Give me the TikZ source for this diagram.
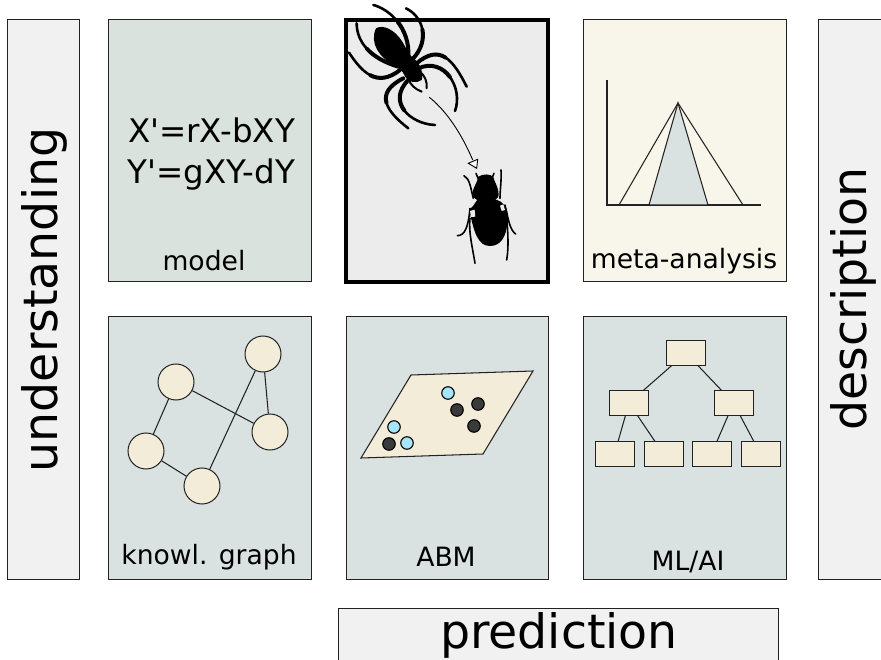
\documentclass[tikz,border=0pt]{standalone}
\usepackage{fontspec}
\setmainfont{DejaVu Sans}
\usetikzlibrary{calc}
\definecolor{modelfill}{HTML}{D9E2DC}
\definecolor{panelfill}{HTML}{D9E1E1}
\definecolor{centerfill}{HTML}{ECECEC}
\definecolor{metafill}{HTML}{F8F5EA}
\definecolor{sidefill}{HTML}{F1F1F1}
\definecolor{cream}{HTML}{F3ECD9}
\definecolor{agentblue}{HTML}{A6E4F8}
\definecolor{agentdark}{HTML}{3A3A3A}
\definecolor{edgegrey}{HTML}{222222}
\tikzset{
  panel/.style={draw=edgegrey,line width=1pt},
  lab/.style={inner sep=0pt,text=black,font=\fontsize{26.6}{30}\selectfont},
  bigtext/.style={inner sep=0pt,text=black,font=\fontsize{47.4}{52}\selectfont},
  gnode/.style={circle,draw=edgegrey,fill=cream,line width=1pt,minimum size=36pt,inner sep=0pt},
  tnode/.style={rectangle,draw=edgegrey,fill=cream,line width=1pt,minimum width=39pt,minimum height=24.5pt,inner sep=0pt},
  agentb/.style={circle,draw=black,fill=agentblue,line width=1.1pt,minimum size=12.5pt,inner sep=0pt},
  agentd/.style={circle,draw=black,fill=agentdark,line width=1.1pt,minimum size=12.5pt,inner sep=0pt},
  conn/.style={draw=edgegrey,line width=1.05pt},
  spleg/.style={draw=black,line cap=round,line width=2.6pt},
  bleg/.style={draw=black,line cap=round,line width=1.6pt},
}
\newcommand\taperleg[4]{%
  \draw[spleg] #1 .. controls #2 and #3 .. #4;
  \coordinate (mA) at ($#3!.5!#4$);
  \coordinate (mB) at ($#2!.5!#3$);
  \coordinate (mC) at ($(mA)!.5!(mB)$);
  \coordinate (mD) at ($#1!.5!#2$);
  \coordinate (mE) at ($(mD)!.5!(mB)$);
  \coordinate (mF) at ($(mE)!.5!(mC)$);
  \draw[spleg,line width=4pt] (mF) .. controls (mC) and (mA) .. #4;
}
\begin{document}
\begin{tikzpicture}[x=1pt,y=-1pt]
\useasboundingbox (0,0) rectangle (881,660);
\clip (0,0) rectangle (881,660);
\fill[white] (0,0) rectangle (881,660);
% side bands
\draw[panel,fill=sidefill] (7,20) rectangle (79,579);
\draw[panel,fill=sidefill] (818,20) rectangle (890,579);
\draw[panel,fill=sidefill] (338,608) rectangle (778,670);
\node[bigtext,rotate=90] (understanding) at (44,300) {understanding};
\node[bigtext,rotate=90] (description) at (853,299) {description};
\node[bigtext] (prediction) at (559,635) {prediction};
% panels
\draw[panel,fill=modelfill] (108,20) rectangle (311,282);
\draw[draw=black,line width=3.5pt,fill=centerfill] (346,20) rectangle (548,282);
\draw[panel,fill=metafill] (583,20) rectangle (786,282);
\draw[panel,fill=panelfill] (108,317) rectangle (311,579);
\draw[panel,fill=panelfill] (346,317) rectangle (548,579);
\draw[panel,fill=panelfill] (583,317) rectangle (786,579);
% model
\node[inner sep=0pt,align=center,font=\fontsize{32.5}{41}\selectfont] (eqs) at (211.5,154) {X\textquotesingle=rX-bXY\\Y\textquotesingle=gXY-dY};
\node[lab] (model) at (204,261) {model};
% meta-analysis
\node[lab] (meta) at (684,261) {meta-analysis};
\draw[conn] (607,80) -- (607,205) -- (761,205);
\draw[conn] (619,205) -- (678,103) -- (743,205);
\draw[conn,fill=panelfill] (649,205) -- (678,103) -- (708,205) -- cycle;
% knowledge graph
\node[gnode] (g1) at (176,382) {};
\node[gnode] (g2) at (263,354) {};
\node[gnode] (g3) at (270,432) {};
\node[gnode] (g4) at (146,451) {};
\node[gnode] (g5) at (202,486) {};
\draw[conn] (g1) -- (g3);
\draw[conn] (g1) -- (g4);
\draw[conn] (g4) -- (g5);
\draw[conn] (g5) -- (g2);
\draw[conn] (g2) -- (g3);
\node[lab] (kg) at (209,557) {knowl. graph};
% ABM
\draw[conn,fill=cream] (411,375) -- (533,371) -- (483,454) -- (361,458) -- cycle;
\node[agentb] (a1) at (448,393) {};
\node[agentb] (a2) at (394,427) {};
\node[agentb] (a3) at (407,443) {};
\node[agentd] (a4) at (457,410) {};
\node[agentd] (a5) at (478,404) {};
\node[agentd] (a6) at (474,426) {};
\node[agentd] (a7) at (389,444) {};
\node[lab] (abm) at (446,557) {ABM};
% tree
\node[tnode] (t0) at (686,353) {};
\node[tnode] (t1) at (629,403) {};
\node[tnode] (t2) at (733.5,403) {};
\node[tnode] (t3) at (614.5,454) {};
\node[tnode] (t4) at (663.5,454) {};
\node[tnode] (t5) at (711.5,454) {};
\node[tnode] (t6) at (760.5,454) {};
\draw[conn] (t0) -- (t1);
\draw[conn] (t0) -- (t2);
\draw[conn] (t1) -- (t3);
\draw[conn] (t1) -- (t4);
\draw[conn] (t2) -- (t5);
\draw[conn] (t2) -- (t6);
\node[lab] (ml) at (688,562) {ML/AI};
% spider
\begin{scope}[shift={(345,0)},x=.3333pt,y=-.3333pt]
  \taperleg{(85,15)}{(135,28)}{(195,85)}{(190,170)}
  \taperleg{(183,25)}{(235,50)}{(255,120)}{(205,175)}
  \taperleg{(35,70)}{(35,125)}{(75,175)}{(160,200)}
  \taperleg{(12,158)}{(50,215)}{(95,265)}{(165,210)}
  \taperleg{(365,260)}{(325,180)}{(285,130)}{(215,190)}
  \taperleg{(330,333)}{(355,265)}{(300,170)}{(220,205)}
  \taperleg{(190,385)}{(125,335)}{(85,280)}{(175,235)}
  \taperleg{(270,375)}{(195,372)}{(125,305)}{(190,240)}
  \draw[spleg,line width=2pt] (245,265) .. controls (247,245) and (240,228) .. (225,215);
  \draw[spleg,line width=2pt] (230,275) .. controls (212,268) and (195,255) .. (190,235);
  \fill[black] (93,85) .. controls (115,72) and (150,90) .. (172,125)
     .. controls (185,148) and (195,168) .. (205,175)
     .. controls (228,190) and (236,225) .. (230,240)
     .. controls (215,252) and (188,248) .. (178,225)
     .. controls (172,210) and (160,205) .. (148,195)
     .. controls (105,175) and (72,130) .. (93,85) -- cycle;
\end{scope}
% predation arrow
\coordinate (arrstart) at (429.3,97.3);
\coordinate (arrend) at (472.7,160);
\draw[line width=.9pt,black] (arrstart) .. controls (448,112) and (463,137) .. (arrend);
\draw[line width=.9pt,black,fill=white] (468.3,163.3) -- (477.7,159.3) -- (476.7,168.3) -- cycle;
% beetle
\begin{scope}[shift={(450,165)},x=.3333pt,y=-.3333pt]
  \draw[bleg] (42,32) .. controls (60,42) and (62,70) .. (70,100);
  \draw[bleg] (153,15) .. controls (155,45) and (150,75) .. (150,100);
  \draw[bleg] (78,25) -- (85,42);
  \draw[bleg] (132,25) -- (125,42);
  \draw[bleg] (22,212) .. controls (45,212) and (55,185) .. (60,130);
  \draw[bleg] (197,207) .. controls (180,195) and (175,165) .. (165,120);
  \draw[bleg] (75,295) .. controls (68,250) and (55,200) .. (60,160);
  \draw[bleg] (170,285) .. controls (178,240) and (172,190) .. (170,150);
  \fill[black] (85,35) .. controls (100,26) and (120,26) .. (130,36)
     .. controls (132,50) and (145,62) .. (146,90)
     .. controls (146,100) and (135,108) .. (105,110)
     .. controls (85,110) and (68,100) .. (68,88)
     .. controls (68,65) and (82,55) .. (85,35) -- cycle;
  \fill[black] (85,100) -- (130,100) -- (152,110) .. controls (168,122) and (176,135) .. (172,170)
     .. controls (170,215) and (152,243) .. (120,243)
     .. controls (85,243) and (72,205) .. (58,135)
     -- (70,122) -- cycle;
  \fill[centerfill] (60,138) -- (74,134) -- (76,155) -- (63,156) -- cycle;
  \fill[centerfill] (150,122) -- (160,118) -- (165,135) -- (155,138) -- cycle;
\end{scope}
\end{tikzpicture}
\end{document}
